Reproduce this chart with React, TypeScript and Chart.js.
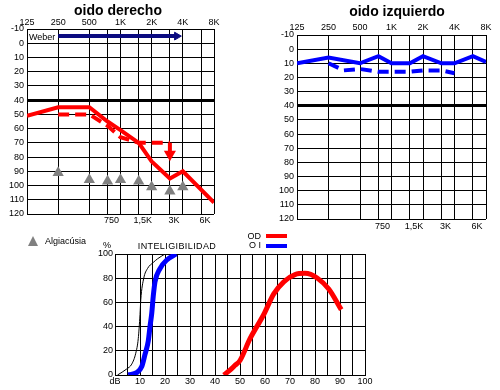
import React, { useEffect, useRef } from 'react';
import { Chart, registerables } from 'chart.js';

Chart.register(...registerables);

// ---------- axes ----------
const FREQ_GRID = [125, 250, 500, 750, 1000, 1500, 2000, 3000, 4000, 6000, 8000];
const FREQ_TOP = [125, 250, 500, 1000, 2000, 4000, 8000];
const FREQ_TOP_LABELS = ['125', '250', '500', '1K', '2K', '4K', '8K'];
const FREQ_MID = [750, 1500, 3000, 6000];
const FREQ_MID_LABELS = ['750', '1,5K', '3K', '6K'];
const DB_TICKS = [-10, 0, 10, 20, 30, 40, 50, 60, 70, 80, 90, 100, 110, 120];
const SPEECH_X_GRID = [0, 5, 10, 15, 20, 25, 30, 35, 40, 45, 50, 55, 60, 65, 70, 75, 80, 85, 90, 95, 100];
const SPEECH_Y_TICKS = [0, 10, 20, 30, 40, 50, 60, 70, 80, 90, 100];

// ---------- oido derecho (OD) ----------
const odAirFreq = [125, 250, 500, 750, 1000, 1500, 2000, 3000, 4000, 8000];
const odAirDb = [51, 45, 45, 55, 61, 70, 83, 95, 90, 112];
const odBoneFreq = [250, 500, 750, 1000, 1500, 2000, 3000];
const odBoneDb = [50, 50, 58, 66, 70, 70, 70];
const odArrowFreq = [3000, 3000];
const odArrowDb = [70, 78];
const algFreq = [250, 500, 750, 1000, 1500, 2000, 3000, 4000];
const algDb = [91, 96, 97, 96, 97, 101, 104, 101];
const weberFreq = [250, 3500];
const weberDb = [-5, -5];

// ---------- oido izquierdo (OI) ----------
const oiAirFreq = [125, 250, 500, 750, 1000, 1500, 2000, 3000, 4000, 6000, 8000];
const oiAirDb = [10, 6, 10, 5, 10, 10, 5, 10, 10, 5, 9];
const oiBoneFreq = [250, 350, 500, 750, 1000, 1500, 2000, 3000, 4000];
const oiBoneDb = [10, 15, 14, 16, 16, 16, 15, 15, 17];

// ---------- inteligibilidad ----------
const normDb = [1, 4.7, 6.7, 8.3, 9.3, 10, 10.3, 11.5, 13, 15.3, 17, 20];
const normPct = [0, 5, 9, 18, 30, 50, 62, 80, 88, 93, 96, 100];
const oiSpeechDb = [5.3, 8.7, 10.7, 12, 13.3, 14, 14.7, 15.3, 16, 18, 20.7, 24.5];
const oiSpeechPct = [0, 2, 7, 17, 28, 40, 51, 65, 77, 88, 95, 100];
const odSpeechDb = [43.5, 46, 48, 50, 54, 59.5, 63.5, 67.5, 72, 76, 81, 85.5, 90.5];
const odSpeechPct = [0, 4, 8, 12, 30, 50, 67, 77, 83, 84, 80, 71, 54];

const RED = '#ff0000';
const BLUE = '#0000ff';
const NAVY = '#0b0b80';
const GRAY = '#808080';
const FONT_FAMILY = '"Liberation Sans", Arial, sans-serif';
const TICK_FONT = { family: FONT_FAMILY, size: 9 };

const pts = (xs: number[], ys: number[]) => xs.map((x, i) => ({ x, y: ys[i] }));
const setTicks = (vals: number[]) => (s: any) => {
  s.ticks = vals.map((v) => ({ value: v }));
};
const labelFrom = (vals: number[], labels: string[]) => (v: any) => {
  const i = vals.indexOf(Number(v));
  return i >= 0 ? labels[i] : '';
};

type Area = { left: number; top: number; right: number; bottom: number; padTop: number; padBottom: number };

function audiogramConfig(datasets: any[], a: Area): any {
  return {
    type: 'line',
    data: { datasets },
    options: {
      responsive: false,
      animation: false,
      devicePixelRatio: 1,
      events: [],
      layout: { padding: { left: 0, top: 0, right: 500 - a.right, bottom: 0 } },
      plugins: { legend: { display: false }, tooltip: { enabled: false } },
      elements: { line: { tension: 0 } },
      scales: {
        x: {
          type: 'logarithmic',
          position: 'top',
          min: 125,
          max: 8000,
          afterBuildTicks: setTicks(FREQ_GRID),
          afterFit: (s: any) => { s.height = a.top; },
          grid: { color: '#000', lineWidth: 1, drawTicks: false },
          border: { color: '#000', width: 1 },
          ticks: {
            autoSkip: false, maxRotation: 0, minRotation: 0, padding: a.padTop,
            color: '#000', font: TICK_FONT, callback: labelFrom(FREQ_TOP, FREQ_TOP_LABELS),
          },
        },
        x2: {
          type: 'logarithmic',
          position: 'bottom',
          min: 125,
          max: 8000,
          afterBuildTicks: setTicks(FREQ_MID),
          afterFit: (s: any) => { s.height = 390 - a.bottom; },
          grid: { display: false, drawTicks: false },
          border: { display: false },
          ticks: {
            autoSkip: false, maxRotation: 0, minRotation: 0, padding: a.padBottom, labelOffset: 4,
            color: '#000', font: TICK_FONT, callback: labelFrom(FREQ_MID, FREQ_MID_LABELS),
          },
        },
        y: {
          type: 'linear',
          reverse: true,
          min: -10,
          max: 120,
          afterBuildTicks: setTicks(DB_TICKS),
          afterFit: (s: any) => { s.width = a.left; },
          grid: {
            color: '#000',
            lineWidth: (c: any) => (c.tick && c.tick.value === 40 ? 3 : 1),
            drawTicks: false,
          },
          border: { color: '#000', width: 1 },
          ticks: { padding: 3, color: '#000', font: TICK_FONT, callback: (v: any) => String(v) },
        },
      },
    },
  };
}

function leftConfig(): any {
  return audiogramConfig(
    [
      { label: 'Weber', data: pts(weberFreq, weberDb), borderColor: NAVY, backgroundColor: NAVY, borderWidth: 4,
        pointStyle: 'triangle', pointRotation: 90, pointRadius: [0, 4.5], pointBorderWidth: 1, pointBorderColor: NAVY },
      { label: 'Algiacúsia', data: pts(algFreq, algDb), showLine: false, pointStyle: 'triangle', pointRadius: 6.5,
        backgroundColor: GRAY, borderColor: GRAY, pointBorderWidth: 0 },
      { label: 'OD vía ósea', data: pts(odBoneFreq, odBoneDb), borderColor: RED, borderWidth: 4, borderDash: [11, 6],
        pointRadius: 0 },
      { label: 'OD sin respuesta', data: pts(odArrowFreq, odArrowDb), borderColor: RED, backgroundColor: RED, borderWidth: 4,
        pointStyle: 'triangle', pointRotation: 180, pointRadius: [0, 7], pointBorderWidth: 0 },
      { label: 'OD vía aérea', data: pts(odAirFreq, odAirDb), borderColor: RED, borderWidth: 4, pointRadius: 0 },
    ],
    { left: 27, top: 29, right: 214, bottom: 214, padTop: 1, padBottom: 1 }
  );
}

function rightConfig(): any {
  return audiogramConfig(
    [
      { label: 'OI vía ósea', data: pts(oiBoneFreq, oiBoneDb), borderColor: BLUE, borderWidth: 4, borderDash: [11, 6],
        pointRadius: 0 },
      { label: 'OI vía aérea', data: pts(oiAirFreq, oiAirDb), borderColor: BLUE, borderWidth: 4, pointRadius: 0 },
    ],
    { left: 297, top: 35, right: 486, bottom: 219, padTop: 2, padBottom: 2 }
  );
}

function speechConfig(): any {
  const curve = { pointRadius: 0, cubicInterpolationMode: 'monotone', tension: 0.4 };
  return {
    type: 'line',
    data: {
      datasets: [
        { label: 'Normal', data: pts(normDb, normPct), borderColor: '#000', borderWidth: 1, ...curve },
        { label: 'OI', data: pts(oiSpeechDb, oiSpeechPct), borderColor: BLUE, borderWidth: 5, ...curve },
        { label: 'OD', data: pts(odSpeechDb, odSpeechPct), borderColor: RED, borderWidth: 5, ...curve },
      ],
    },
    options: {
      responsive: false,
      animation: false,
      devicePixelRatio: 1,
      events: [],
      layout: { padding: { left: 0, top: 254, right: 135, bottom: 0 } },
      plugins: { legend: { display: false }, tooltip: { enabled: false } },
      scales: {
        x: {
          type: 'linear',
          position: 'bottom',
          min: 0,
          max: 100,
          afterBuildTicks: setTicks(SPEECH_X_GRID),
          afterFit: (s: any) => { s.height = 15; },
          grid: { color: '#000', lineWidth: 1, drawTicks: false },
          border: { color: '#000', width: 1 },
          ticks: {
            autoSkip: false, maxRotation: 0, minRotation: 0, padding: 1, color: '#000', font: TICK_FONT,
            callback: (v: any) => (Number(v) % 10 === 0 ? (Number(v) === 0 ? 'dB' : String(v)) : ''),
          },
        },
        y: {
          type: 'linear',
          min: 0,
          max: 100,
          afterBuildTicks: setTicks(SPEECH_Y_TICKS),
          afterFit: (s: any) => { s.width = 115; },
          grid: {
            color: '#000',
            lineWidth: (c: any) => (c.tick && c.tick.value === 50 ? 2 : 1),
            drawTicks: false,
          },
          border: { color: '#000', width: 1 },
          ticks: { padding: 2, color: '#000', font: TICK_FONT, callback: (v: any) => String(v) },
        },
      },
    },
  };
}

const Txt = ({ x, y, children, size = 9, bold = false, align = 'center', spacing = 0 }: any) => (
  <div
    style={{
      position: 'absolute',
      left: x,
      top: y,
      transform: `translate(${align === 'center' ? '-50%' : align === 'right' ? '-100%' : '0'}, -50%)`,
      fontSize: size,
      fontWeight: bold ? 'bold' : 'normal',
      lineHeight: 1,
      whiteSpace: 'nowrap',
      letterSpacing: spacing,
      color: '#000',
    }}
  >
    {children}
  </div>
);

export default function App() {
  const r1 = useRef<HTMLCanvasElement>(null);
  const r2 = useRef<HTMLCanvasElement>(null);
  const r3 = useRef<HTMLCanvasElement>(null);

  useEffect(() => {
    const charts = [
      new Chart(r1.current!, leftConfig()),
      new Chart(r2.current!, rightConfig()),
      new Chart(r3.current!, speechConfig()),
    ];
    return () => charts.forEach((c) => c.destroy());
  }, []);

  const cv: React.CSSProperties = { position: 'absolute', left: 0, top: 0, width: 500, height: 390 };

  return (
    <div
      style={{
        position: 'fixed',
        left: 0,
        top: 0,
        width: 500,
        height: 390,
        background: '#fff',
        fontFamily: FONT_FAMILY,
        overflow: 'hidden',
      }}
    >
      <canvas ref={r1} width={500} height={390} style={cv} />
      <canvas ref={r2} width={500} height={390} style={cv} />
      <canvas ref={r3} width={500} height={390} style={cv} />

      <Txt x={118} y={10} size={14} bold>oido derecho</Txt>
      <Txt x={397} y={11} size={14} bold>oido izquierdo</Txt>
      <Txt x={29} y={37} size={9} align="left">Weber</Txt>

      <div
        style={{
          position: 'absolute', left: 28, top: 236, width: 0, height: 0,
          borderLeft: '5.5px solid transparent', borderRight: '5.5px solid transparent',
          borderBottom: `10px solid ${GRAY}`,
        }}
      />
      <Txt x={45} y={241} size={9} align="left">Algiacúsia</Txt>

      <Txt x={261} y={236} size={9} align="right">OD</Txt>
      <div style={{ position: 'absolute', left: 266, top: 234, width: 21, height: 4, background: RED }} />
      <Txt x={261} y={245} size={9} align="right">O I</Txt>
      <div style={{ position: 'absolute', left: 266, top: 244, width: 21, height: 4, background: BLUE }} />

      <Txt x={107} y={245} size={9}>%</Txt>
      <Txt x={177} y={246} size={9} spacing={0.4}>INTELIGIBILIDAD</Txt>
    </div>
  );
}
